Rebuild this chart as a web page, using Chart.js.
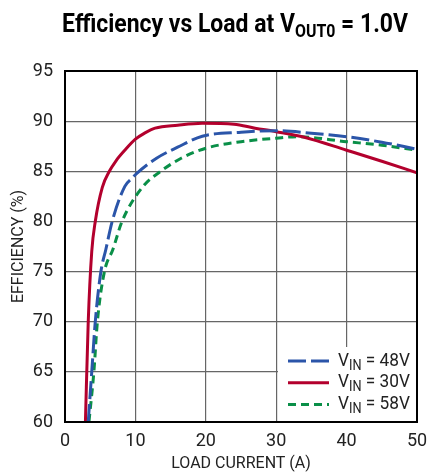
<!DOCTYPE html>
<html>
<head>
<meta charset="utf-8">
<script src="https://cdn.jsdelivr.net/npm/chart.js@4.4.1/dist/chart.umd.min.js"></script>
<style>
html, body { margin: 0; padding: 0; background: #fff; }
</style>
</head>
<body>
<canvas id="chart" width="427" height="474"></canvas>
<script>
const xTicks = [0, 10, 20, 30, 40, 50];
const yTicks = [60, 65, 70, 75, 80, 85, 90, 95];

// V_IN = 48V
const load48 = [3.3, 3.8, 4.3, 5.1, 5.8, 6.7, 8.5, 9.5, 10.2, 13, 16, 19.5, 25, 30, 35, 40, 45, 50];
const eff48 = [60, 65, 70, 75, 77.2, 80, 83.5, 84.3, 84.8, 86.3, 87.4, 88.5, 88.9, 89.05, 88.8, 88.45, 87.9, 87.2];

// V_IN = 30V
const load30 = [2.9, 3.3, 3.8, 4.3, 5.3, 6.3, 7.2, 8.5, 10, 11.3, 12.8, 16, 19.5, 24, 27, 30, 34, 40, 45, 50];
const eff30 = [60, 70, 77, 80, 83.4, 85, 86, 87.1, 88.2, 88.8, 89.3, 89.6, 89.8, 89.7, 89.3, 88.95, 88.4, 87.1, 86, 84.85];

// V_IN = 58V
const load58 = [3.4, 4.1, 4.6, 5.6, 6.8, 8.1, 11.1, 13.6, 16.5, 20, 25, 30, 33, 40, 45, 50];
const eff58 = [60, 65, 70, 75, 77.2, 80, 83.5, 85, 86.3, 87.3, 87.95, 88.3, 88.45, 87.95, 87.6, 87.1];

const vinLabels = ['48V', '30V', '58V'];

const FONT = 'Roboto, "DejaVu Sans Condensed", sans-serif';

const toPoints = (xs, ys) => xs.map((x, i) => ({ x: x, y: ys[i] }));

const partsWidth = (ctx, parts) => parts.reduce((w, p) => {
    ctx.font = p.font;
    return w + ctx.measureText(p.text).width;
}, 0);

// draws text runs (for subscripts), squeezed to a given width when asked
const drawParts = (ctx, parts, x, y, fitWidth) => {
    const w = partsWidth(ctx, parts);
    const k = fitWidth ? fitWidth / w : 1;
    ctx.save();
    ctx.translate(x, y);
    ctx.scale(k, 1);
    let cx = 0;
    parts.forEach(p => {
        ctx.font = p.font;
        ctx.fillText(p.text, cx, p.dy);
        cx += ctx.measureText(p.text).width;
    });
    ctx.restore();
};

const extras = {
    id: 'extras',
    afterDatasetsDraw(chart) {
        const ctx = chart.ctx;
        const area = chart.chartArea;
        ctx.save();

        // legend box
        const bx = 278, by = 347;
        ctx.fillStyle = '#fff';
        ctx.fillRect(bx, by, area.right - bx, area.bottom - by);
        chart.data.datasets.forEach((ds, i) => {
            const y = 361 + i * 21.7;
            ctx.strokeStyle = ds.borderColor;
            ctx.lineWidth = ds.borderWidth;
            ctx.setLineDash(ds.borderDash || []);
            ctx.beginPath();
            ctx.moveTo(288, y);
            ctx.lineTo(329, y);
            ctx.stroke();
            ctx.setLineDash([]);
            ctx.fillStyle = '#222';
            ctx.textBaseline = 'middle';
            drawParts(ctx, [
                { text: 'V', font: '19px ' + FONT, dy: 0 },
                { text: 'IN', font: '14px ' + FONT, dy: 5 },
                { text: ' = ' + vinLabels[i], font: '19px ' + FONT, dy: 0 }
            ], 338, y, 72);
        });

        // frame
        ctx.strokeStyle = '#000';
        ctx.lineWidth = 2;
        ctx.strokeRect(area.left, area.top, area.right - area.left, area.bottom - area.top);

        // title
        ctx.fillStyle = '#000';
        ctx.textBaseline = 'alphabetic';
        drawParts(ctx, [
            { text: 'Efficiency vs Load at V', font: 'bold 26px ' + FONT, dy: 0 },
            { text: 'OUT0', font: 'bold 18px ' + FONT, dy: 5 },
            { text: ' = 1.0V', font: 'bold 26px ' + FONT, dy: 0 }
        ], 62, 32, 346);
        ctx.restore();
    }
};

const ctx = document.getElementById('chart').getContext('2d');
const chart = new Chart(ctx, {
    type: 'line',
    data: {
        datasets: [{
            label: 'VIN = 48V',
            data: toPoints(load48, eff48),
            borderColor: '#2b55a9',
            borderWidth: 3,
            borderDash: [18, 5],
            pointRadius: 0,
            cubicInterpolationMode: 'monotone'
        }, {
            label: 'VIN = 30V',
            data: toPoints(load30, eff30),
            borderColor: '#b3002d',
            borderWidth: 3,
            pointRadius: 0,
            cubicInterpolationMode: 'monotone'
        }, {
            label: 'VIN = 58V',
            data: toPoints(load58, eff58),
            borderColor: '#0a8f48',
            borderWidth: 3,
            borderDash: [8, 5],
            pointRadius: 0,
            cubicInterpolationMode: 'monotone'
        }]
    },
    options: {
        responsive: false,
        animation: false,
        layout: {
            padding: { top: 71, right: 10, left: 0, bottom: 0 }
        },
        plugins: {
            legend: { display: false },
            tooltip: { enabled: false }
        },
        scales: {
            x: {
                type: 'linear',
                min: 0,
                max: 50,
                afterBuildTicks: s => { s.ticks = xTicks.map(v => ({ value: v })); },
                afterFit: s => {
                    s.height = 52;
                    s.paddingLeft = 0;
                    s.paddingRight = 0;
                },
                grid: { color: '#666', lineWidth: 1.2, drawTicks: false },
                border: { color: '#000', width: 2 },
                ticks: { color: '#222', padding: 9, font: { family: FONT, size: 18 } },
                title: {
                    display: true,
                    text: 'LOAD CURRENT (A)',
                    color: '#222',
                    font: { family: FONT, size: 16 },
                    padding: { top: 8, bottom: 0 }
                }
            },
            y: {
                type: 'linear',
                min: 60,
                max: 95,
                afterBuildTicks: s => { s.ticks = yTicks.map(v => ({ value: v })); },
                afterFit: s => { s.width = 65; },
                grid: { color: '#666', lineWidth: 1.2, drawTicks: false },
                border: { color: '#000', width: 2 },
                ticks: { color: '#222', padding: 12, font: { family: FONT, size: 18 } },
                title: {
                    display: true,
                    text: 'EFFICIENCY (%)',
                    color: '#222',
                    font: { family: FONT, size: 16 },
                    padding: { top: 9, bottom: 0 }
                }
            }
        }
    },
    plugins: [extras]
});
</script>
</body>
</html>
